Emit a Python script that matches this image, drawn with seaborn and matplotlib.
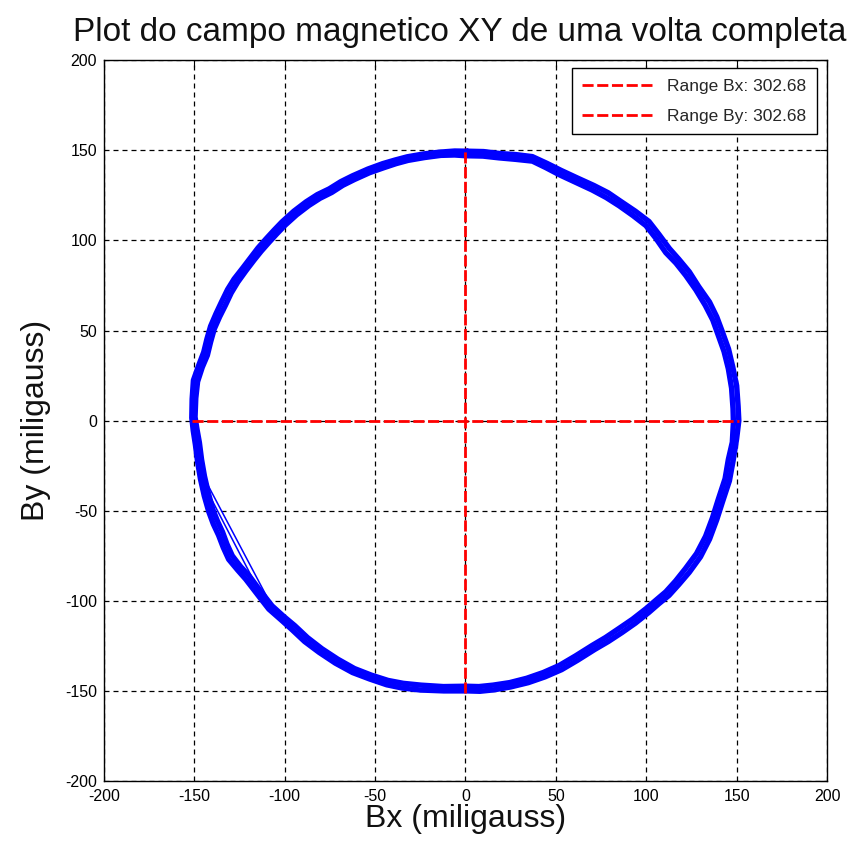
import numpy as np
import pandas as pd
import matplotlib
matplotlib.use("Agg")
import matplotlib.pyplot as plt
import seaborn as sns

# Magnetometer readings (miligauss) over one full turn: two overlapping passes
bx_pass1 = [1, 10, 19, 28, 37, 45, 53, 62, 71, 79, 86, 94, 101.5, 107, 112.8, 118, 123.8, 129, 135, 139, 142.2,
            145.5, 147.8, 150, 150.8, 151.2, 150, 148, 146, 142.2, 139, 135, 130, 123.8, 118, 112.6, 107, 101.5,
            94, 86.6, 79, 71.5, 62, 53.2, 44, 34.8, 25, 15.8, 8, 1, -12, -25, -35, -43.6, -53, -62.5, -72,
            -81, -89, -96, -102, -108.8, -115, -121.6, -126, -131, -134, -136.6, -139.5, -142, -144.5, -146.6,
            -148.2, -149.4, -150.6, -151.4, -151.2, -150.5, -147.6, -144.8, -143, -141, -138, -135, -131.6, -128,
            -123, -118.6, -114.8, -110.4, -106, -101.6, -95, -88.2, -82, -75.4, -69, -62.6, -54, -45.8, -39,
            -32.2, -23, -14, -6, 1]
by_pass1 = [149.5, 149.3, 148.2, 147.6, 146.5, 142.8, 138.8, 134.6, 130.5, 126.4, 121.6, 116.2, 110.5, 103.4, 95.5,
            89.6, 82.6, 74.4, 65.8, 57.6, 49, 39.8, 30, 19.4, 8, 0, -10, -22.5, -33.4, -45, -55, -65.8, -75.6,
            -84.2, -91, -97, -101.6, -106.4, -112.4, -117.6, -122.6, -127, -133, -138.2, -142.2, -145.4, -147.8,
            -149.4, -150.2, -150, -150, -149.5, -148.4, -146.6, -143.4, -139.8, -134.6, -128.6, -122.6, -116,
            -110.6, -104.6, -96.6, -88, -83, -77, -70.4, -63.6, -57.4, -50.6, -41.8, -32.4, -22.8, -13.4, -5.6,
            1.5, 12, 22.4, 30.6, 38, 45.4, 52.4, 59.4, 65.8, 72.8, 78.6, 85, 90.8, 95.8, 100.8, 105.6, 110.2,
            116.2, 121.4, 125.4, 128.6, 132.6, 135.8, 139.6, 142.6, 144.6, 146.4, 148, 149, 149.6, 149.5]

bx_pass2 = [0, 9.6, 18.6, 27.6, 37, 44.4, 52, 61, 70, 77.8, 85, 92.6, 99.8, 105.4, 110.8, 116.4, 121.8, 127.4,
            132.6, 136.8, 139.8, 143, 145.4, 147.2, 148, 148.2, 147.6, 145.4, 143.6, 139.8, 136.6, 132.8, 127.8,
            121.6, 116.2, 110.8, 105.4, 99.8, 92.4, 84.8, 77.4, 70, 60.8, 52, 43, 33.8, 24.4, 15.2, 7.4, 0,
            -12.2, -24.6, -34.4, -42.8, -52.2, -61.4, -70.6, -79.4, -87.4, -94.4, -100.6, -107, -113.2, -119.6,
            -124.4, -129, -132, -134.4, -137.2, -139.8, -142.2, -144.4, -146, -147.2, -148.6, -149.6, -149.2,
            -148.2, -145.6, -142.8, -141, -139, -136, -132.8, -129.6, -126, -121.4, -117, -113, -108.6, -104.4,
            -99.8, -93.4, -86.6, -80.4, -74, -67.8, -61.4, -53, -45, -38.4, -31.8, -22.6, -13.6, -6, 0]
by_pass2 = [147, 146.8, 145.8, 145, 144, 140.4, 136.4, 132.2, 128, 123.8, 119.2, 113.8, 108.2, 101, 93.2, 87.4,
            80.6, 72.6, 64, 55.8, 47.4, 38.4, 28.8, 18, 6.6, -1, -12, -21.6, -32.2, -43.8, -54, -64.2, -73.8,
            -82.2, -89, -95, -99.6, -104.4, -110.2, -115.4, -120.4, -124.8, -130.6, -135.8, -139.8, -143, -145.4,
            -146.8, -147.6, -147.4, -147.6, -146.8, -145.8, -144.2, -141.2, -137.6, -132.4, -126.6, -120.4,
            -113.8, -108.6, -102.8, -94.8, -86.2, -81, -75, -68.4, -61.8, -55.8, -49.2, -40.4, -30.8, -21.6,
            -12.2, -4.4, 2, 12.4, 21.6, 29.6, 36.2, 43.6, 50.8, 57.6, 64, 70.8, 76.8, 83.2, 89, 94, 99, 103.6,
            108.4, 114.2, 119.4, 123.4, 126.6, 130.6, 133.8, 137.6, 140.4, 142.6, 144.4, 146, 147.2, 147.4, 147]

# Stretches where samples were skipped (straight jumps across the lower-left arc)
bx_jump1 = [-149.5, -145.5, -143.8, -107.9, -95]
by_jump1 = [-10, -29, -33.3, -101.5, -114]
bx_jump2 = [-149, -146.2, -145.2, -109.2, -96]
by_jump2 = [-12, -31.5, -34.5, -104.2, -115.5]

# Ranges reported in the legend
range_bx = 302.68
range_by = 302.68

ticks = [-200, -150, -100, -50, 0, 50, 100, 150, 200]

sns.set_theme(style="white")
plt.rcParams["font.family"] = ["Liberation Sans", "DejaVu Sans"]

fig = plt.figure(figsize=(8.52, 8.48), dpi=100)
ax = fig.add_axes([0.122, 0.079, 0.8487, 0.850])

blue = "#0000ff"
for bx, by, lw in [(bx_pass1, by_pass1, 3.9), (bx_pass2, by_pass2, 3.9),
                   (bx_jump1, by_jump1, 1.1), (bx_jump2, by_jump2, 1.1)]:
    sns.lineplot(x=bx, y=by, sort=False, estimator=None, color=blue, lw=lw, ax=ax,
                 solid_joinstyle="round", solid_capstyle="round")

# Range markers: horizontal span of Bx and vertical span of By
half_x = range_bx / 2
half_y = range_by / 2
dash = (0, (4, 1.3))
sns.lineplot(x=[-half_x, half_x], y=[0, 0], color="red", lw=2.0, ax=ax,
             label=f"Range Bx: {range_bx:.2f}")
sns.lineplot(x=[0, 0], y=[-half_y, half_y], sort=False, estimator=None, color="red", lw=2.0, ax=ax,
             label=f"Range By: {range_by:.2f}")
for ln in ax.lines[-2:]:
    ln.set_linestyle(dash)

ax.set_xlim(-200, 200)
ax.set_ylim(-200, 200)
ax.set_xticks(ticks)
ax.set_yticks(ticks)
ax.set_xticklabels([str(t) for t in ticks])
ax.set_yticklabels([str(t) for t in ticks])
ax.tick_params(direction="in", top=True, right=True, length=5, width=0.8,
               labelsize=11.5, colors="black")
ax.tick_params(axis="x", pad=6)
ax.tick_params(axis="y", pad=5)
ax.grid(True, color="black", linestyle=(0, (4, 3.2)), linewidth=0.9)
for sp in ax.spines.values():
    sp.set_visible(True)
    sp.set_color("black")
    sp.set_linewidth(1.0)

fig.text(0.54, 0.962, "Plot do campo magnetico XY de uma volta completa", fontsize=24,
         ha="center", va="center", color="#111111")
ax.set_xlabel("Bx (miligauss)", fontsize=23, labelpad=0, color="#111111")
ax.set_ylabel("By (miligauss)", fontsize=23, labelpad=10, color="#111111")

leg = ax.legend(loc="upper right", fontsize=12.5, frameon=True, fancybox=False,
                edgecolor="black", framealpha=1, handlelength=4.2, handletextpad=0.7,
                borderpad=0.6, labelspacing=0.85, borderaxespad=0,
                bbox_to_anchor=(0.986, 0.989))
leg.get_frame().set_linewidth(1.0)
for h in leg.get_lines():
    h.set_linestyle(dash)

fig.savefig("out.png", dpi=100, facecolor="white")
